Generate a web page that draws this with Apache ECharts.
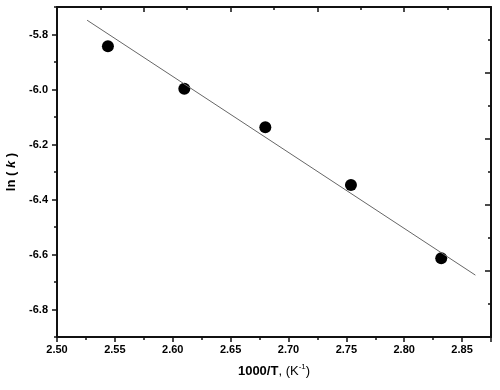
<!DOCTYPE html>
<html>
<head>
<meta charset="utf-8">
<script src="https://cdn.jsdelivr.net/npm/echarts@6/dist/echarts.min.js"></script>
<style>
  html, body { margin: 0; padding: 0; background: #fff; }
  #chart { width: 500px; height: 390px; }
</style>
</head>
<body>
<div id="chart"></div>
<script>
// measured points, 1000/T vs ln(k)
const invT = [2.544, 2.610, 2.680, 2.754, 2.832];
const lnK = [-5.843, -5.997, -6.137, -6.347, -6.614];
// fitted line ends
const fitX = [2.526, 2.8615];
const fitY = [-5.748, -6.675];
// tick labels
const yTicks = [-6.8, -6.6, -6.4, -6.2, -6.0, -5.8];
const yMinorTicks = [-6.9, -6.7, -6.5, -6.3, -6.1, -5.9, -5.7];

const font = 'Arial, "Liberation Sans", sans-serif';
const lineStyle = { color: '#111', width: 2 };

const chart = echarts.init(document.getElementById('chart'), null, { renderer: 'canvas' });
chart.setOption({
  animation: false,
  grid: { left: 57, right: 9, top: 7, bottom: 53, outerBoundsMode: 'none', containLabel: false },
  xAxis: [
    {
      type: 'value',
      position: 'bottom',
      min: 2.5,
      max: 2.875,
      interval: 0.05,
      axisLine: { show: true, onZero: false, lineStyle },
      axisTick: { show: true, inside: false, length: 5, lineStyle: { color: '#111', width: 1.5 } },
      minorTick: { show: true, splitNumber: 2, length: 3, lineStyle: { color: '#111', width: 1.5 } },
      splitLine: { show: false },
      axisLabel: {
        showMaxLabel: false,
        margin: 7,
        color: '#000',
        fontFamily: font,
        fontWeight: 'bold',
        fontSize: 11,
        formatter: (v) => v.toFixed(2),
      },
      name: '{b|1000/T}{n|, (K}{s|-1}{n|)}',
      nameLocation: 'middle',
      nameGap: 26,
      nameTextStyle: {
        rich: {
          b: { fontFamily: font, fontWeight: 'bold', fontSize: 13, color: '#000', lineHeight: 16 },
          n: { fontFamily: font, fontSize: 13, color: '#000', lineHeight: 16 },
          s: { fontFamily: font, fontSize: 8, color: '#000', verticalAlign: 'top', lineHeight: 16 },
        },
      },
    },
    {
      type: 'value',
      position: 'top',
      min: 0,
      max: 10,
      interval: 2,
      axisLine: { show: true, onZero: false, lineStyle },
      axisTick: { show: true, inside: true, length: 5, lineStyle: { color: '#111', width: 1.5 } },
      minorTick: { show: true, splitNumber: 2, length: 3, lineStyle: { color: '#111', width: 1.5 } },
      splitLine: { show: false },
      axisLabel: { show: false },
    },
  ],
  yAxis: [
    {
      type: 'value',
      position: 'left',
      min: -6.9,
      max: -5.7,
      axisLine: { show: true, onZero: false, lineStyle },
      axisTick: { show: true, inside: false, length: 5, customValues: yTicks, lineStyle: { color: '#111', width: 1.5 } },
      splitLine: { show: false },
      axisLabel: {
        customValues: yTicks,
        margin: 9,
        color: '#000',
        fontFamily: font,
        fontWeight: 'bold',
        fontSize: 11,
        formatter: (v) => v.toFixed(1),
      },
      name: '{b|ln ( }{i|k}{b| )}',
      nameLocation: 'middle',
      nameRotate: 90,
      nameGap: 32,
      nameTextStyle: {
        rich: {
          b: { fontFamily: font, fontWeight: 'bold', fontSize: 13, color: '#000' },
          i: { fontFamily: font, fontWeight: 'bold', fontStyle: 'italic', fontSize: 13, color: '#000' },
        },
      },
    },
    {
      type: 'value',
      position: 'left',
      min: -6.9,
      max: -5.7,
      axisLine: { show: false },
      axisTick: { show: true, inside: false, length: 3, customValues: yMinorTicks, lineStyle: { color: '#111', width: 1.5 } },
      splitLine: { show: false },
      axisLabel: { show: false },
    },
    {
      type: 'value',
      position: 'right',
      min: 0,
      max: 10,
      interval: 2,
      axisLine: { show: true, onZero: false, lineStyle },
      axisTick: { show: true, inside: true, length: 6, lineStyle: { color: '#111', width: 1.5 } },
      minorTick: { show: true, splitNumber: 2, length: 3, lineStyle: { color: '#111', width: 1.5 } },
      splitLine: { show: false },
      axisLabel: { show: false },
    },
  ],
  series: [
    {
      type: 'line',
      xAxisIndex: 0,
      yAxisIndex: 0,
      data: fitX.map((x, i) => [x, fitY[i]]),
      showSymbol: false,
      symbol: 'none',
      lineStyle: { color: '#666', width: 1 },
      silent: true,
    },
    {
      type: 'scatter',
      xAxisIndex: 0,
      yAxisIndex: 0,
      data: invT.map((x, i) => [x, lnK[i]]),
      symbol: 'circle',
      symbolSize: 12,
      itemStyle: { color: '#000', opacity: 1 },
    },
  ],
});
</script>
</body>
</html>
